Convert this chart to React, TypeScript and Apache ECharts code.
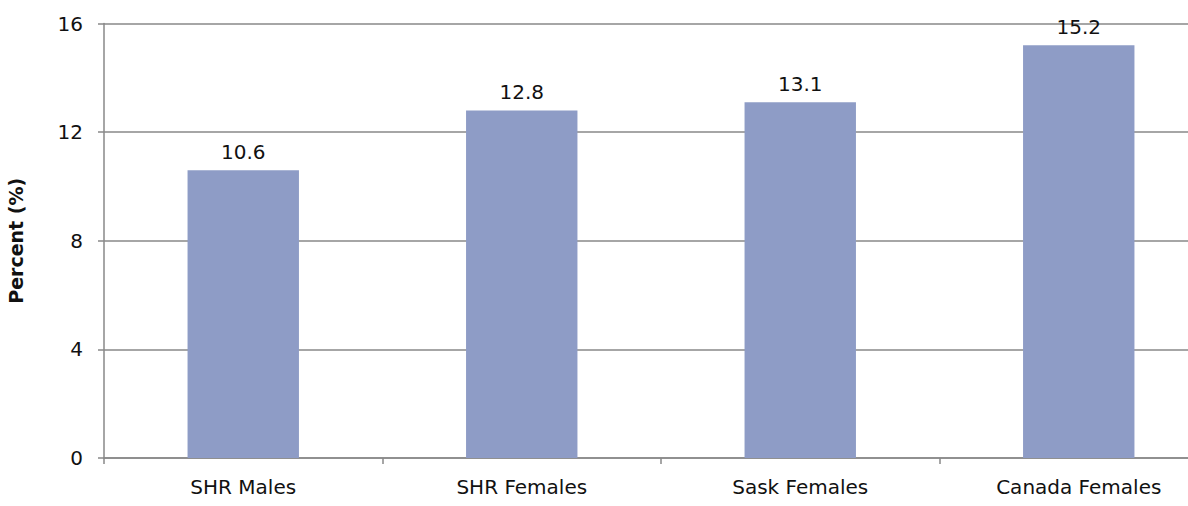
import React, { useEffect, useRef } from "react";
import * as echarts from "echarts";

const categories = ["SHR Males", "SHR Females", "Sask Females", "Canada Females"];
const values = [10.6, 12.8, 13.1, 15.2];
const yTicks = [0, 4, 8, 12, 16];

const FONT = "'DejaVu Sans', sans-serif";

export default function App() {
  const ref = useRef<HTMLDivElement>(null);
  useEffect(() => {
    document.body.style.margin = "0";
    const chart = echarts.init(ref.current!, null, { renderer: "svg" });
    chart.setOption({
      animation: false,
      grid: {
        left: 104,
        top: 23.5,
        width: 1114,
        height: 434.5,
        containLabel: false,
        outerBoundsMode: "none",
      },
      xAxis: {
        type: "category",
        data: categories,
        boundaryGap: true,
        axisLine: { lineStyle: { color: "#888888", width: 1.5 } },
        axisTick: { show: true, length: 6, lineStyle: { color: "#888888", width: 1.5 } },
        axisLabel: { color: "#111", fontSize: 20, fontFamily: FONT, margin: 19 },
        splitLine: { show: false },
      },
      yAxis: {
        type: "value",
        min: yTicks[0],
        max: yTicks[yTicks.length - 1],
        interval: 4,
        name: "Percent (%)",
        nameLocation: "middle",
        nameGap: 79,
        nameTextStyle: { color: "#111", fontSize: 19, fontWeight: "bold", fontFamily: FONT },
        axisLine: { show: true, lineStyle: { color: "#888888", width: 1.5 } },
        axisTick: { show: true, length: 6, lineStyle: { color: "#888888", width: 1.5 } },
        axisLabel: { color: "#111", fontSize: 20, fontFamily: FONT, margin: 21 },
        splitLine: { show: true, lineStyle: { color: "#888888", width: 1.5 } },
      },
      series: [
        {
          type: "bar",
          data: values,
          barWidth: "40%",
          itemStyle: { color: "#8E9CC6" },
          label: {
            show: true,
            position: "top",
            distance: 8,
            color: "#111",
            fontSize: 20,
            fontFamily: FONT,
            formatter: (p: any) => p.value.toFixed(1),
          },
        },
      ],
    });
    return () => chart.dispose();
  }, []);
  return <div ref={ref} style={{ width: 1188, height: 506 }} />;
}
